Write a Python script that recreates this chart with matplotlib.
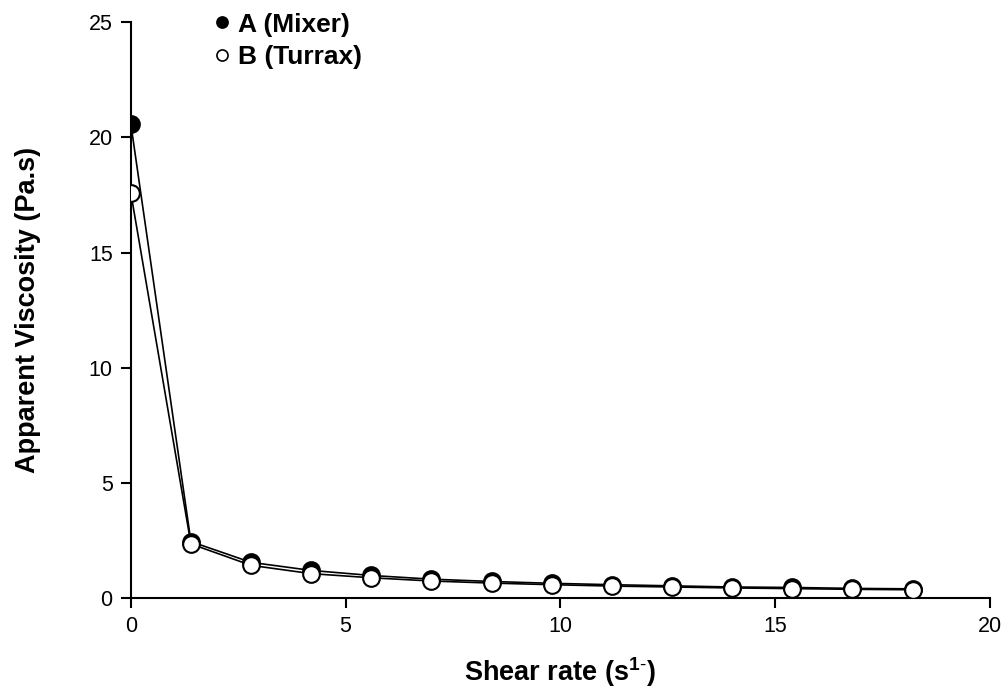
import numpy as np
import matplotlib.pyplot as plt
from matplotlib.lines import Line2D

plt.rcParams['font.family'] = ['Liberation Sans', 'DejaVu Sans']
plt.rcParams['mathtext.fontset'] = 'custom'
plt.rcParams['mathtext.rm'] = 'Liberation Sans'
plt.rcParams['mathtext.bf'] = 'Liberation Sans:bold'

# data
shear_rate = [0.0, 1.4, 2.8, 4.2, 5.6, 7.0, 8.4, 9.8, 11.2, 12.6, 14.0, 15.4, 16.8, 18.2]
visc_mixer = [20.6, 2.45, 1.55, 1.2, 0.98, 0.82, 0.72, 0.64, 0.58, 0.53, 0.48, 0.46, 0.42, 0.40]
visc_turrax = [17.6, 2.35, 1.42, 1.06, 0.88, 0.74, 0.65, 0.58, 0.52, 0.48, 0.44, 0.41, 0.38, 0.36]

fig = plt.figure(figsize=(10.06, 6.93), dpi=100)
ax = fig.add_axes([0.130, 0.137, 0.854, 0.831])

ax.plot(shear_rate, visc_mixer, '-', color='black', lw=1.2,
        marker='o', ms=12, mfc='black', mec='black', mew=1.5, zorder=3)
ax.plot(shear_rate, visc_turrax, '-', color='black', lw=1.2,
        marker='o', ms=12, mfc='white', mec='black', mew=1.5, zorder=4)

ax.set_xlim(0, 20)
ax.set_ylim(0, 25)
ax.set_xticks([0, 5, 10, 15, 20])
ax.set_yticks([0, 5, 10, 15, 20, 25])
ax.spines['top'].set_visible(False)
ax.spines['right'].set_visible(False)
for s in ['left', 'bottom']:
    ax.spines[s].set_linewidth(1.5)
ax.tick_params(direction='out', length=7, width=1.5, labelsize=15.5, pad=6)

ax.set_xlabel('Shear rate (s$^{\\mathbf{1\\text{-}}}$)', fontsize=19.5, fontweight='bold', labelpad=13)
ax.set_ylabel('Apparent Viscosity (Pa.s)', fontsize=19.5, fontweight='bold', labelpad=34)

handles = [
    Line2D([], [], ls='none', marker='o', ms=8, mfc='black', mec='black', mew=1.2),
    Line2D([], [], ls='none', marker='o', ms=8, mfc='white', mec='black', mew=1.2),
]
ax.legend(handles, ['A (Mixer)', 'B (Turrax)'], loc='upper left',
          bbox_to_anchor=(0.191, 1.016), bbox_transform=fig.transFigure,
          frameon=False, handlelength=0.5, handletextpad=0.35, labelspacing=0.32,
          prop={'weight': 'bold', 'size': 19})

fig.savefig('out.png', dpi=100)
